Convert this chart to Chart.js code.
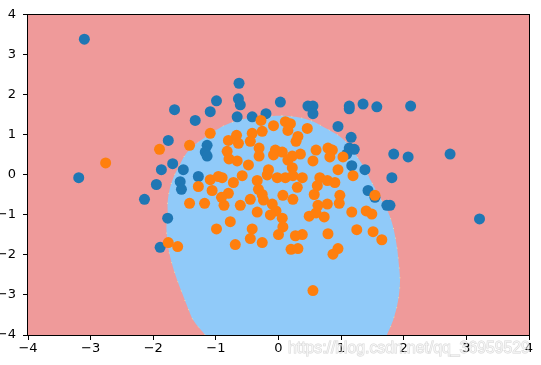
<!DOCTYPE html>
<html>
<head>
<meta charset="utf-8">
<script src="https://cdn.jsdelivr.net/npm/chart.js@4/dist/chart.umd.min.js"></script>
<style>
html,body{margin:0;padding:0;background:#fff;}
canvas{display:block;}
</style>
</head>
<body>
<canvas id="c" width="541" height="365"></canvas>
<script>
// tick values
const xTicks = [-4,-3,-2,-1,0,1,2,3,4];
const yTicks = [-4,-3,-2,-1,0,1,2,3,4];

// class 0 (blue) points
const blueX = [-3.10,-3.19,-0.63,-0.64,-0.61,-0.99,-1.66,-1.09,-1.33,-0.66,-0.42,-0.20,0.03,0.47,0.55,0.55,1.13,1.13,1.35,1.57,2.11,0.95,1.16,1.13,1.21,1.09,1.38,1.17,1.84,2.07,2.74,1.43,1.81,1.73,1.78,3.21,-1.76,-1.14,-1.17,-1.14,-1.69,-1.87,-1.52,-1.95,-1.57,-1.55,-2.14,-1.28,-1.77,-1.89,1.54];
const blueY = [3.39,-0.07,2.29,1.90,1.75,1.85,1.63,1.58,1.36,1.45,1.45,1.53,1.82,1.72,1.72,1.53,1.72,1.65,1.77,1.70,1.72,1.21,0.94,0.67,0.64,0.52,0.13,0.23,0.52,0.45,0.52,-0.39,-0.07,-0.76,-0.76,-1.10,0.86,0.74,0.57,0.47,0.28,0.13,0.13,-0.24,-0.17,-0.36,-0.61,-0.04,-1.08,-1.81,-0.56];

// class 1 (orange) points
const orangeX = [-2.76,-1.90,-1.42,-1.09,-0.80,-0.67,-0.42,-0.45,-0.26,-0.28,-0.08,0.11,0.19,0.15,0.46,-0.82,-0.64,-0.31,-0.31,-0.05,0.06,0.31,0.28,0.35,0.60,-0.79,0.15,0.79,0.86,0.82,1.03,0.55,0.95,1.19,0.66,0.78,0.90,0.57,0.98,0.97,0.63,0.73,1.17,1.40,1.49,1.25,1.51,1.65,0.79,0.95,1.54,0.55,-0.66,-0.48,-0.08,0.22,-0.16,-0.18,-0.02,0.11,0.22,0.23,0.38,-0.90,-0.72,-0.58,-0.34,-0.32,-0.26,-0.80,-0.87,-0.61,-0.45,-0.24,-0.10,-0.04,0.07,0.23,0.49,-0.34,-0.13,0.06,-0.77,-0.42,0.07,0.00,0.38,-0.45,-0.69,-0.26,0.20,-1.09,-1.28,-0.96,-1.06,-1.42,-1.18,-0.91,-0.99,-1.76,-1.61,0.27,0.31,0.87,0.78,0.60,0.30,0.62];
const orangeY = [0.30,0.64,0.74,1.04,0.86,0.99,1.04,0.84,1.09,1.36,1.23,1.33,1.28,1.11,1.16,0.59,0.79,0.67,0.47,0.62,0.57,0.96,0.84,0.52,0.62,0.40,0.37,0.67,0.62,0.45,0.45,0.35,0.13,-0.02,-0.07,-0.14,-0.19,-0.49,-0.51,-0.71,-0.76,-1.05,-0.93,-0.90,-0.98,-1.37,-1.42,-1.62,-1.47,-1.84,-0.51,-2.89,0.35,0.25,0.50,0.47,0.13,0.00,-0.07,-0.07,0.18,-0.02,-0.07,-0.07,-0.19,-0.02,-0.14,-0.36,-0.49,-0.46,-0.76,-0.76,-0.61,-0.63,-0.73,-0.90,-0.51,-0.61,-1.03,-0.93,-1.00,-1.08,-1.17,-1.35,-1.30,-1.49,-1.49,-1.59,-1.74,-1.69,-1.86,-0.12,-0.29,-0.04,-0.39,-0.71,-0.71,-0.56,-1.35,-1.69,-1.79,-1.52,-1.84,-1.98,-0.73,-0.95,-0.31,-0.27];

// decision boundary of the class-1 region
const boundaryX = [-1.17,-1.36,-1.45,-1.53,-1.65,-1.74,-1.77,-1.79,-1.77,-1.77,-1.73,-1.66,-1.60,-1.49,-1.36,-1.20,-1.01,-0.80,-0.53,-0.26,0.03,0.27,0.51,0.74,0.98,1.14,1.27,1.38,1.49,1.62,1.75,1.83,1.89,1.92,1.94,1.91,1.83,1.73];
const boundaryY = [-4.00,-3.63,-3.31,-2.99,-2.48,-1.98,-1.67,-1.30,-0.98,-0.68,-0.31,0.00,0.18,0.50,0.72,0.91,1.11,1.28,1.40,1.45,1.48,1.45,1.36,1.18,0.96,0.72,0.42,0.15,-0.19,-0.56,-0.93,-1.30,-1.79,-2.21,-2.65,-3.14,-3.63,-4.00];

const watermark = 'https://blog.csdn.net/qq_36959529';

const pts = (xs, ys) => xs.map((x, i) => ({x: x, y: ys[i]}));

const bgPlugin = {
  id: 'bg',
  beforeDraw(chart) {
    const {ctx, chartArea: a} = chart;
    ctx.save();
    ctx.fillStyle = '#EF9A9A';
    ctx.fillRect(a.left, a.top, a.right - a.left, a.bottom - a.top);
    ctx.restore();
  },
  afterDatasetsDraw(chart) {
    const {ctx, chartArea: a} = chart;
    ctx.save();
    ctx.strokeStyle = '#000';
    ctx.lineWidth = 1;
    ctx.strokeRect(Math.round(a.left) - 0.5, Math.round(a.top) - 0.5, Math.round(a.right - a.left) + 1, Math.round(a.bottom - a.top) + 1);
    ctx.restore();
  },
  afterDraw(chart) {
    const ctx = chart.ctx;
    ctx.save();
    let size = 17;
    ctx.font = size + 'px "Liberation Sans", Arial, sans-serif';
    const w = ctx.measureText(watermark).width;
    size = size * 242 / w;
    ctx.font = size + 'px "Liberation Sans", Arial, sans-serif';
    ctx.textBaseline = 'alphabetic';
    ctx.textAlign = 'left';
    ctx.lineWidth = 1;
    ctx.strokeStyle = 'rgba(140,140,140,0.35)';
    ctx.strokeText(watermark, 288, 353);
    ctx.fillStyle = 'rgba(255,255,255,0.6)';
    ctx.fillText(watermark, 288, 353);
    ctx.restore();
  }
};

const tickFont = {family: '"DejaVu Sans", sans-serif', size: 13};
const fmt = v => String(v).replace('-', '\u2212');

new Chart(document.getElementById('c'), {
  type: 'scatter',
  data: {
    datasets: [
      {
        label: 'region',
        data: pts(boundaryX, boundaryY),
        showLine: true,
        fill: 'shape',
        backgroundColor: '#90CAF9',
        borderColor: 'rgba(255,245,157,0.7)',
        borderWidth: 1,
        borderDash: [1, 9],
        tension: 0.35,
        pointRadius: 0,
        order: 3
      },
      {
        label: '0',
        data: pts(blueX, blueY),
        backgroundColor: '#1f77b4',
        borderColor: '#1f77b4',
        borderWidth: 0,
        pointRadius: 5.5,
        order: 2
      },
      {
        label: '1',
        data: pts(orangeX, orangeY),
        backgroundColor: '#ff7f0e',
        borderColor: '#ff7f0e',
        borderWidth: 0,
        pointRadius: 5.5,
        order: 1
      }
    ]
  },
  options: {
    responsive: false,
    animation: false,
    devicePixelRatio: 1,
    layout: {padding: {left: 0, top: 9, right: 12, bottom: 0}},
    plugins: {legend: {display: false}, tooltip: {enabled: false}},
    scales: {
      x: {
        type: 'linear',
        min: xTicks[0], max: xTicks[xTicks.length - 1],
        afterBuildTicks: s => { s.ticks = xTicks.map(v => ({value: v})); },
        afterFit: s => { s.height = 30; },
        ticks: {font: tickFont, color: '#000', padding: 1, callback: fmt, maxRotation: 0, autoSkip: false},
        grid: {drawOnChartArea: false, drawTicks: true, tickLength: 5, tickColor: '#000'},
        border: {display: false}
      },
      y: {
        type: 'linear',
        min: yTicks[0], max: yTicks[yTicks.length - 1],
        afterBuildTicks: s => { s.ticks = yTicks.map(v => ({value: v})); },
        afterFit: s => { s.width = 28; },
        ticks: {font: tickFont, color: '#000', padding: 7, callback: fmt, autoSkip: false},
        grid: {drawOnChartArea: false, drawTicks: true, tickLength: 5, tickColor: '#000'},
        border: {display: false}
      }
    }
  },
  plugins: [bgPlugin]
});
</script>
</body>
</html>
